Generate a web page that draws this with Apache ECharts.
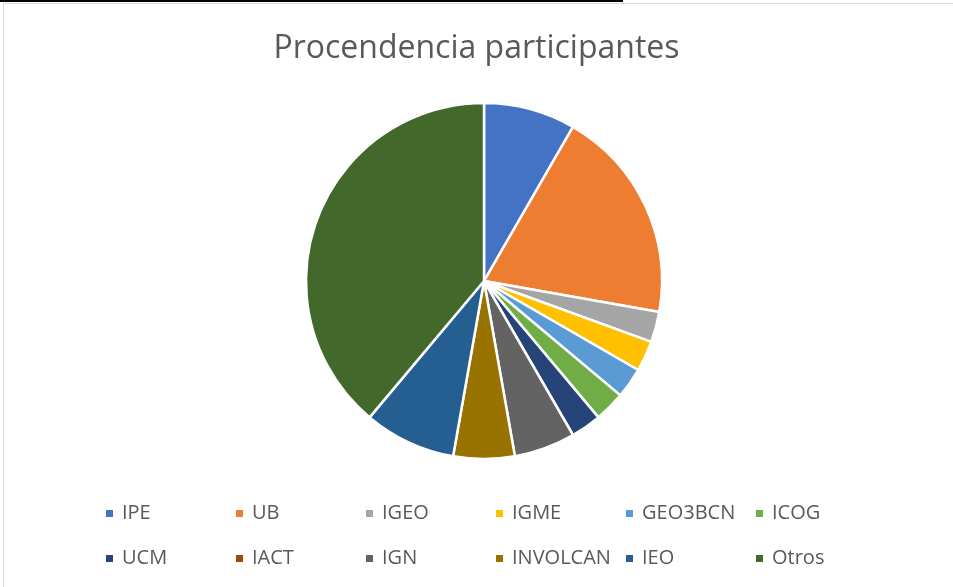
<!DOCTYPE html>
<html>
<head>
<meta charset="utf-8">
<script src="https://cdn.jsdelivr.net/npm/echarts@6/dist/echarts.min.js"></script>
<style>
  html, body { margin: 0; padding: 0; background: #fff; }
  #wrap { position: relative; width: 953px; height: 587px; overflow: hidden; }
  #frame { position: absolute; left: 3px; top: 3px; width: 1000px; height: 700px; border: 1px solid #d9d9d9; box-sizing: border-box; }
  #topbox { position: absolute; left: 0; top: -20px; width: 623px; height: 22px; border: 2px solid #000; box-sizing: border-box; }
  #chart { position: absolute; left: 0; top: 0; width: 953px; height: 587px; }
</style>
</head>
<body>
<div id="wrap">
  <div id="frame"></div>
  <div id="topbox"></div>
  <div id="chart"></div>
</div>
<script>
const categories = ["IPE", "UB", "IGEO", "IGME", "GEO3BCN", "ICOG", "UCM", "IACT", "IGN", "INVOLCAN", "IEO", "Otros"];
const values = [3, 7, 1, 1, 1, 1, 1, 0, 2, 2, 3, 14];
const colors = ["#4472C4", "#ED7D31", "#A5A5A5", "#FFC000", "#5B9BD5", "#70AD47",
  "#264478", "#9E480E", "#636363", "#997300", "#255E91", "#43682B"];

const chart = echarts.init(document.getElementById("chart"));
chart.setOption({
  backgroundColor: "transparent",
  animation: false,
  color: colors,
  title: {
    text: "Procendencia participantes",
    left: "center",
    top: 28,
    textStyle: { color: "#595959", fontSize: 32, fontWeight: "normal", fontFamily: "Open Sans" },
  },
  legend: {
    left: 99,
    top: 486,
    width: 790,
    itemGap: 0,
    itemWidth: 9,
    itemHeight: 9,
    icon: "rect",
    data: categories,
    textStyle: {
      color: "#595959",
      fontSize: 20,
      fontFamily: "Open Sans",
      width: 112,
      lineHeight: 45,
      padding: [0, 0, 0, 3],
    },
  },
  series: [
    {
      type: "pie",
      center: [484, 281],
      radius: 178,
      startAngle: 90,
      clockwise: true,
      label: { show: false },
      labelLine: { show: false },
      emphasis: { scale: false },
      itemStyle: { borderColor: "#fff", borderWidth: 2.5 },
      data: categories.map((name, i) => ({ name, value: values[i] })),
    },
  ],
});
</script>
</body>
</html>
